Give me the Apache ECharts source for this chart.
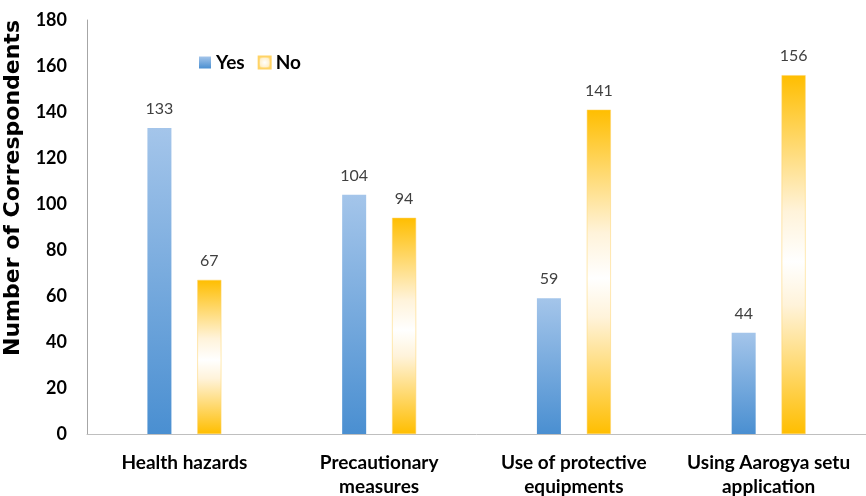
<!DOCTYPE html>
<html>
<head>
<meta charset="utf-8">
<script src="https://cdn.jsdelivr.net/npm/echarts@6/dist/echarts.min.js"></script>
<style>
  html, body { margin: 0; padding: 0; background: #fff; }
  #chart { width: 866px; height: 496px; }
</style>
</head>
<body>
<div id="chart"></div>
<script>
// Survey responses per topic
const categories = ['Health hazards', 'Precautionary\nmeasures', 'Use of protective\nequipments', 'Using Aarogya setu\napplication'];
const yesValues = [133, 104, 59, 44];
const noValues = [67, 94, 141, 156];
const yTicks = { min: 0, max: 180, step: 20 };

const FONT = 'Lato, "Open Sans", sans-serif';

const yesFill = new echarts.graphic.LinearGradient(0, 0, 0, 1, [
  { offset: 0, color: '#a4c5ea' },
  { offset: 1, color: '#4a8fd1' }
]);
const noFill = new echarts.graphic.LinearGradient(0, 0, 0, 1, [
  { offset: 0, color: '#ffbe00' },
  { offset: 0.38, color: '#fff3da' },
  { offset: 0.52, color: '#ffffff' },
  { offset: 0.64, color: '#fff3da' },
  { offset: 1, color: '#ffbe00' }
]);
const noIcon = new echarts.graphic.RadialGradient(0.5, 0.5, 0.7, [
  { offset: 0, color: '#ffffff' },
  { offset: 0.5, color: '#fff0cc' },
  { offset: 1, color: '#ffc000' }
]);

const labelStyle = {
  show: true,
  position: 'top',
  distance: 11,
  color: '#404040',
  fontFamily: FONT,
  fontSize: 16
};

const chart = echarts.init(document.getElementById('chart'));
chart.setOption({
  animation: false,
  backgroundColor: '#ffffff',
  grid: { left: 87, right: 0, top: 20, bottom: 62, outerBoundsMode: 'none', containLabel: false },
  legend: {
    left: 194,
    top: 48,
    itemWidth: 12,
    itemHeight: 12,
    itemGap: 13,
    icon: 'rect',
    textStyle: { fontFamily: FONT, fontSize: 19, fontWeight: 'bold', color: '#000' },
    data: [
      { name: 'Yes', itemStyle: { color: yesFill } },
      { name: 'No', itemStyle: { color: noIcon } }
    ]
  },
  xAxis: {
    type: 'category',
    data: categories,
    axisLine: { lineStyle: { color: '#bfbfbf', width: 1 } },
    axisTick: { show: false },
    axisLabel: {
      interval: 0,
      margin: 17,
      color: '#000',
      fontFamily: FONT,
      fontSize: 19,
      fontWeight: 'bold',
      lineHeight: 24
    }
  },
  yAxis: {
    type: 'value',
    min: yTicks.min,
    max: yTicks.max,
    interval: yTicks.step,
    name: 'Number of Correspondents',
    nameLocation: 'middle',
    nameGap: 44,
    nameTextStyle: {
      fontFamily: '"DejaVu Sans", sans-serif',
      fontSize: 22,
      fontWeight: 'bold',
      color: '#000',
      padding: [0, 0, 0, 78]
    },
    splitLine: { show: false },
    axisLine: { show: true, lineStyle: { color: '#a6a6a6', width: 1 } },
    axisTick: { show: false },
    axisLabel: {
      margin: 20,
      color: '#000',
      fontFamily: FONT,
      fontSize: 18,
      fontWeight: 'bold'
    }
  },
  series: [
    {
      name: 'Yes',
      type: 'bar',
      data: yesValues,
      barWidth: 24,
      barGap: '108%',
      itemStyle: { color: yesFill },
      label: labelStyle
    },
    {
      name: 'No',
      type: 'bar',
      data: noValues,
      barWidth: 24,
      itemStyle: { color: noFill, borderColor: '#ffd366', borderWidth: 0.5 },
      label: labelStyle
    }
  ]
});
</script>
</body>
</html>
